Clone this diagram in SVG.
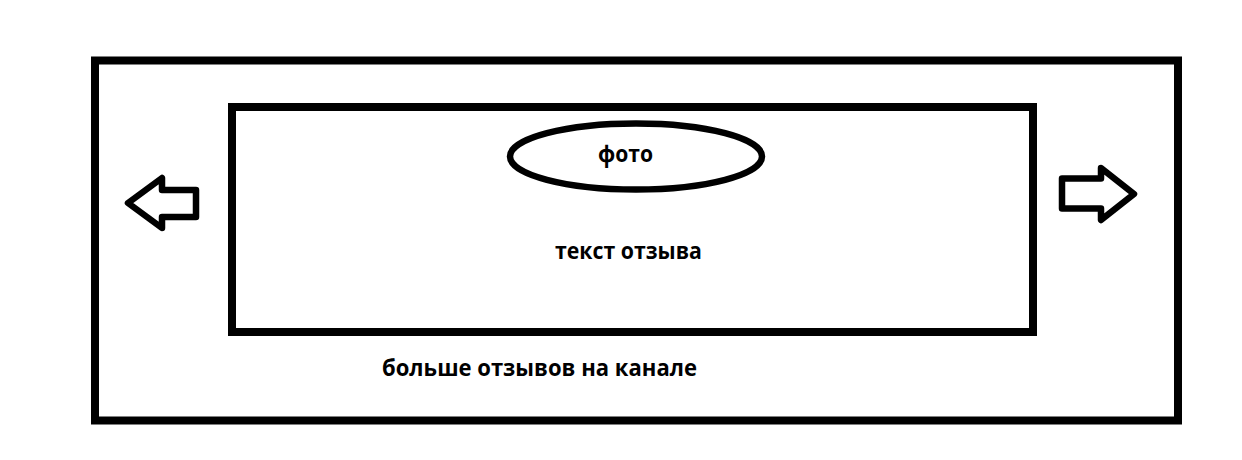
<svg xmlns="http://www.w3.org/2000/svg" width="1242" height="460" viewBox="0 0 1242 460">
  <style>
    .box { fill: none; stroke: #000; stroke-width: 8; }
    .oval { fill: #fff; stroke: #000; stroke-width: 6.5; }
    .arrow { fill: #fff; stroke: #000; stroke-width: 6.5; stroke-linejoin: round; }
    .lbl { font-family: "Open Sans", "DejaVu Sans", sans-serif; font-weight: 700; font-size: 23px; fill: #000; }
  </style>
  <rect x="0" y="0" width="1242" height="460" fill="#fff"/>
  <g id="outer-frame">
    <rect class="box" x="95" y="60.5" width="1083" height="360"/>
  </g>
  <g id="review-card">
    <rect class="box" x="232" y="107" width="801" height="225"/>
  </g>
  <g id="photo">
    <ellipse class="oval" cx="636" cy="156.5" rx="126" ry="33"/>
    <text class="lbl" x="598" y="162" textLength="55" lengthAdjust="spacingAndGlyphs">фото</text>
  </g>
  <g id="review-text">
    <text class="lbl" x="555" y="259" textLength="147" lengthAdjust="spacingAndGlyphs">текст отзыва</text>
  </g>
  <g id="more-reviews">
    <text class="lbl" x="382" y="376" textLength="315" lengthAdjust="spacingAndGlyphs">больше отзывов на канале</text>
  </g>
  <g id="arrow-left">
    <polygon class="arrow" points="128,203 162,178 162,190 196,190 196,217 162,217 162,228"/>
  </g>
  <g id="arrow-right">
    <polygon class="arrow" points="1062,178.5 1101,178.5 1101,168 1134,194 1101,220 1101,208.5 1062,208.5"/>
  </g>
  <g id="connectors"></g>
</svg>
